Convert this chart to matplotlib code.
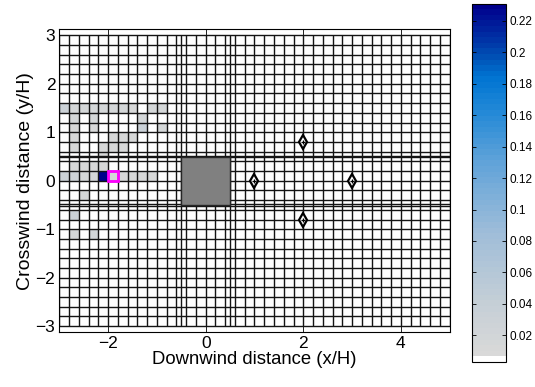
import numpy as np
import matplotlib
matplotlib.use("Agg")
import matplotlib.pyplot as plt
from matplotlib.colors import LinearSegmentedColormap, ListedColormap
from matplotlib.patches import Rectangle

plt.rcParams['font.family'] = ['Liberation Sans', 'DejaVu Sans']

# ---- data ----
x_ticks = [-2, 0, 2, 4]
y_ticks = [-3, -2, -1, 0, 1, 2, 3]
cbar_ticks = [0.02, 0.04, 0.06, 0.08, 0.10, 0.12, 0.14, 0.16, 0.18, 0.20, 0.22]
cbar_labels = ["0.02", "0.04", "0.06", "0.08", "0.1", "0.12", "0.14", "0.16", "0.18", "0.2", "0.22"]

# mesh edges (x/H, y/H)
x_edges = sorted(set(np.round(np.concatenate([np.arange(-3, 5.001, 0.2), [-0.5, 0.5]]), 3)))
y_edges = sorted(set(np.round(np.concatenate([np.arange(-3, 3.001, 0.2), [-0.52, -0.48, 0.48, 0.52]]), 3)))

# shaded cells: lower-left corner and value
cell_x = [-3.0, -2.8, -2.6, -2.4, -2.2, -2.0, -1.8, -1.6, -1.2, -1.0,
          -2.8, -2.4, -1.4,
          -2.8, -2.4, -1.4, -1.0,
          -2.8, -2.0, -1.8, -1.6,
          -2.8, -2.2, -2.0, -1.8,
          -2.2,
          -2.8, -2.6, -2.4, -2.2,
          -3.0, -2.8, -2.6, -2.4, -2.2, -2.0, -1.8, -1.6, -1.4, -1.2,
          -2.6,
          -2.8,
          -2.8, -2.4]
cell_y = [1.4, 1.4, 1.4, 1.4, 1.4, 1.4, 1.4, 1.4, 1.4, 1.4,
          1.2, 1.2, 1.2,
          1.0, 1.0, 1.0, 1.0,
          0.8, 0.8, 0.8, 0.8,
          0.6, 0.6, 0.6, 0.6,
          0.52,
          0.2, 0.2, 0.2, 0.2,
          0.0, 0.0, 0.0, 0.0, 0.0, 0.0, 0.0, 0.0, 0.0, 0.0,
          -0.4,
          -0.8,
          -1.2, -1.2]
cell_val = [0.03, 0.015, 0.015, 0.015, 0.015, 0.015, 0.015, 0.012, 0.015, 0.015,
            0.015, 0.015, 0.015,
            0.013, 0.012, 0.035, 0.015,
            0.013, 0.013, 0.013, 0.012,
            0.013, 0.012, 0.013, 0.012,
            0.012,
            0.013, 0.013, 0.013, 0.012,
            0.03, 0.025, 0.015, 0.015, 0.23, 0.015, 0.012, 0.012, 0.012, 0.012,
            0.015,
            0.035,
            0.015, 0.02]

source_x, source_y = -2.0, 0.0          # highlighted cell (lower-left)
building = (-0.5, -0.5, 1.0, 1.0)       # x0, y0, w, h
sensor_x = [1, 2, 2, 3]
sensor_y = [0, 0.8, -0.8, 0]

vmin, vmax = 0.003, 0.231

# ---- colormap ----
anchors = [(0.0, (0.85, 0.85, 0.85)), (0.15, (0.77, 0.81, 0.84)),
           (0.35, (0.62, 0.74, 0.85)), (0.55, (0.38, 0.64, 0.85)),
           (0.72, (0.10, 0.52, 0.84)), (0.80, (0.0, 0.45, 0.82)),
           (0.86, (0.0, 0.30, 0.70)), (1.0, (0.0, 0.0, 0.55))]
base = LinearSegmentedColormap.from_list('bl', anchors)
cols = base(np.linspace(0, 1, 63))
cols = np.vstack([[1, 1, 1, 1], cols])
cmap = ListedColormap(cols)

# ---- grid values ----
xe = np.array(x_edges)
ye = np.array(y_edges)
C = np.zeros((len(ye) - 1, len(xe) - 1))
for cx, cy, v in zip(cell_x, cell_y, cell_val):
    i = np.argmin(np.abs(xe - cx))
    j = np.argmin(np.abs(ye - cy))
    C[j, i] = v

fig = plt.figure(figsize=(5.35, 3.87), dpi=100)
ax = fig.add_axes([0.1112, 0.1421, 0.729, 0.7817])
mesh = ax.pcolormesh(xe, ye, C, cmap=cmap, vmin=vmin, vmax=vmax,
                     edgecolors='none', antialiased=False)
ax.vlines(xe, ye[0], ye[-1], colors='0.08', linewidth=1.0, zorder=2)
ax.hlines(ye, xe[0], xe[-1], colors='0.08', linewidth=1.0, zorder=2)
ax.add_patch(Rectangle(building[:2], building[2], building[3],
                       facecolor='#808080', edgecolor='0.15', lw=1.0, zorder=3))
ax.add_patch(Rectangle((source_x, source_y), 0.2, 0.2,
                       facecolor='none', edgecolor='#ff00ff', lw=2.0, zorder=4))
ax.plot(sensor_x, sensor_y, 'd', ms=6.8, mfc='white', mec='black', mew=1.6, zorder=5)
ax.plot(sensor_x, sensor_y, '+', ms=3, mec='black', mew=0.9, zorder=6)

ax.set_xlim(-3, 5)
ax.set_ylim(-3.12, 3.12)
ax.set_xticks(x_ticks)
ax.set_yticks(y_ticks)
ax.set_xticklabels([f"{t}".replace('-', '\u2212') for t in x_ticks])
ax.set_yticklabels([f"{t}".replace('-', '\u2212') for t in y_ticks])
ax.tick_params(direction='in', length=4, width=0.6, top=True, right=True,
               labelsize=12.5, pad=3)
ax.set_xlabel('Downwind distance (x/H)', fontsize=13.3, labelpad=0)
ax.set_ylabel('Crosswind distance (y/H)', fontsize=14, labelpad=1)
for s in ax.spines.values():
    s.set_linewidth(0.8)

cax = fig.add_axes([0.8822, 0.0646, 0.0645, 0.926])
cb = fig.colorbar(mesh, cax=cax)
cb.set_ticks(cbar_ticks)
cb.set_ticklabels(cbar_labels)
cax.tick_params(direction='in', length=3, width=0.6, left=True, right=True,
                labelsize=8.5, pad=2)
cb.outline.set_linewidth(0.8)

fig.savefig('out.png', dpi=100)
